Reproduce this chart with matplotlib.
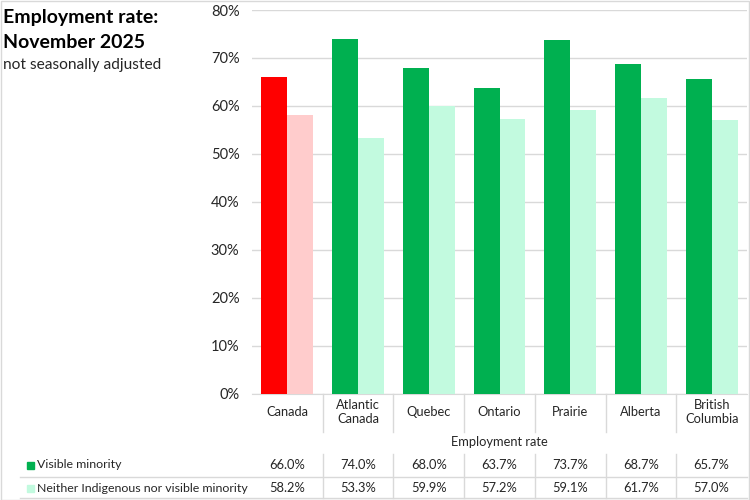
import numpy as np
import matplotlib.pyplot as plt
import matplotlib.transforms as mtransforms
from matplotlib.patches import Rectangle
from matplotlib.lines import Line2D

plt.rcParams['font.family'] = ['Lato', 'DejaVu Sans']

regions = ['Canada', 'Atlantic\nCanada', 'Quebec', 'Ontario', 'Prairie',
           'Alberta', 'British\nColumbia']
series_names = ['Visible minority', 'Neither Indigenous nor visible minority']
visible = [66.0, 74.0, 68.0, 63.7, 73.7, 68.7, 65.7]
neither = [58.2, 53.3, 59.9, 57.2, 59.1, 61.7, 57.0]
yticks = [0, 10, 20, 30, 40, 50, 60, 70, 80]

green = '#00B050'
light_green = '#C2FADF'
red = '#FF0000'
pink = '#FFCCCC'
grid_c = '#D9D9D9'
text_c = '#262626'

W, H = 750, 500
fig = plt.figure(figsize=(7.5, 5), dpi=100)

# plot area in pixels: x 252..747, y 10..393.5
ax = fig.add_axes([252 / W, 1 - 393.5 / H, (747 - 252) / W, (393.5 - 10) / H])

x = np.arange(len(regions))
bw = 0.367
c1 = [red] + [green] * (len(regions) - 1)
c2 = [pink] + [light_green] * (len(regions) - 1)
ax.bar(x - bw / 2, visible, bw, color=c1, zorder=3)
ax.bar(x + bw / 2, neither, bw, color=c2, zorder=3)

ax.set_xlim(-0.5, len(regions) - 0.5)
ax.set_ylim(0, 80)
ax.set_yticks(yticks)
ax.set_yticklabels([f'{t}%' for t in yticks], fontsize=10.5, color=text_c)
ax.tick_params(axis='y', length=0, pad=9)
ax.set_xticks([])
ax.yaxis.grid(True, color=grid_c, linewidth=1, zorder=0)
for s in ['top', 'right', 'left']:
    ax.spines[s].set_visible(False)
ax.spines['bottom'].set_color(grid_c)

# data table below the chart
trans = mtransforms.blended_transform_factory(ax.transData, fig.transFigure)
fy = lambda py: 1 - py / H
tfs = 9.3

for i, r in enumerate(regions):
    fig.text(i, fy(412), r, transform=trans, ha='center', va='center',
             fontsize=tfs, color=text_c, linespacing=1.2)
    fig.text(i, fy(465), f'{visible[i]:.1f}%', transform=trans, ha='center',
             va='center', fontsize=tfs, color=text_c)
    fig.text(i, fy(488), f'{neither[i]:.1f}%', transform=trans, ha='center',
             va='center', fontsize=tfs, color=text_c)

for b in np.arange(0.5, len(regions) - 0.5, 1.0):
    fig.add_artist(Line2D([b, b], [fy(394), fy(432)], transform=trans,
                          color=grid_c, linewidth=1))
    fig.add_artist(Line2D([b, b], [fy(454), fy(498)], transform=trans,
                          color=grid_c, linewidth=1))

fig.text(len(regions) / 2 - 0.5, fy(442), 'Employment rate', transform=trans,
         ha='center', va='center', fontsize=tfs, color=text_c)

for py in [477, 498]:
    fig.add_artist(Line2D([20 / W, 747 / W], [fy(py), fy(py)],
                          transform=fig.transFigure, color=grid_c, linewidth=1))

# row labels with legend keys
for py, name, col in [(465, series_names[0], green),
                      (488, series_names[1], light_green)]:
    fig.add_artist(Rectangle((27 / W, fy(py + 4)), 7 / W, 7 / H,
                             transform=fig.transFigure, color=col))
    fig.text(37 / W, fy(py), name, ha='left', va='center', fontsize=8.9,
             color=text_c)

# titles
fig.text(3 / W, fy(18), 'Employment rate:', ha='left', va='center',
         fontsize=14, fontweight='bold', color='black')
fig.text(3 / W, fy(42), 'November 2025', ha='left', va='center',
         fontsize=14, fontweight='bold', color='black')
fig.text(3 / W, fy(65), 'not seasonally adjusted', ha='left', va='center',
         fontsize=11.2, color=text_c)

# outer border
fig.add_artist(Rectangle((0.5 / W, 0.5 / H), 1 - 1.5 / W, 1 - 1.5 / H,
                         transform=fig.transFigure, fill=False,
                         edgecolor=grid_c, linewidth=1))

fig.savefig('out.png', dpi=100)
